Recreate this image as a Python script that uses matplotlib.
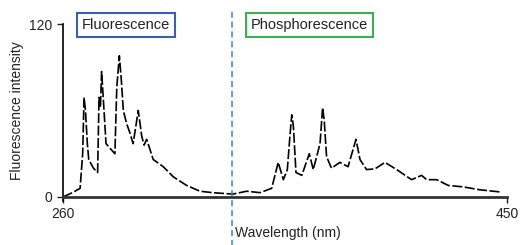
import matplotlib
matplotlib.use('Agg')
import matplotlib.pyplot as plt

plt.rcParams['font.family'] = ['Liberation Sans', 'DejaVu Sans']

# Fluorescence part of the spectrum (wavelength nm, intensity)
wl_fluo = [260, 264, 267.3, 268.4, 269, 269.6, 270.4, 271, 273, 274.8,
           275.4, 276.0, 276.5, 277.2, 278.4, 280, 282.2, 283, 284.1, 285,
           285.8, 287.2, 288.5, 290, 292.2, 293.7, 294.7, 295.8, 298.6, 302.9,
           307.2, 312.9, 318.6, 324, 332.7, 338.6]
int_fluo = [0, 3, 6, 30, 69, 60, 37, 26, 20, 17,
            69, 62, 87, 69, 37, 34, 30, 76, 98, 80,
            60, 51, 45, 37, 60, 42, 36, 40, 26, 21,
            14, 8, 4, 3, 2, 4]

# Phosphorescence part
wl_phos = [344.3, 349.3, 352.1, 354.3, 356, 357.1, 357.9, 358.6, 359.7, 362.2,
           365.4, 367.1, 370, 371.1, 371.8, 372.8, 374.9, 378.5, 382, 385.4,
           387.1, 389.9, 393.5, 397.8, 402.8, 409.2, 413.5, 415.6, 419.9, 424.9,
           431.3, 438.4, 447]
int_phos = [3, 6, 24, 12, 19, 42, 57, 49, 17, 15,
            30, 19, 37, 62, 53, 28, 20, 24, 21, 40,
            26, 19, 19.5, 24, 19, 12, 15, 12, 12, 8,
            7, 5, 3.5]

wl = wl_fluo + wl_phos
intensity = int_fluo + int_phos

x_ticks = [260, 450]
y_ticks = [0, 120]
split_wl = 332.3

fig = plt.figure(figsize=(5.21, 2.45), dpi=100)
ax = fig.add_axes([0.121, 0.196, 0.852, 0.706])

ax.plot(wl, intensity, color='black', linewidth=1.2, linestyle=(0, (6, 1.5)))

ax.set_xlim(260, 450)
ax.set_ylim(0, 120)
ax.set_xticks(x_ticks)
ax.set_yticks(y_ticks)
ax.tick_params(labelsize=10, colors='#222222', length=4, width=1)
ax.spines['top'].set_visible(False)
ax.spines['right'].set_visible(False)
ax.spines['left'].set_linewidth(1.2)
ax.spines['bottom'].set_linewidth(2)
ax.spines['bottom'].set_color('#333333')
ax.spines['left'].set_bounds(-3, 120)
ax.set_ylabel('Fluorescence intensity', fontsize=10, color='#222222', labelpad=4)

# dashed separator line running past the axes
ax.axvline(split_wl, ymin=-0.3, ymax=1.07, color='#3a86c8', linestyle=(0, (4, 2.5)),
           linewidth=1.1, clip_on=False)

fig.text(0.451, 0.05, 'Wavelength (nm)', fontsize=10, color='#222222', ha='left', va='center')

ax.text(0.043, 0.994, 'Fluorescence', transform=ax.transAxes, fontsize=10.5, color='#222222',
        ha='left', va='center',
        bbox=dict(boxstyle='square,pad=0.35', facecolor='white', edgecolor='#3a5fad', linewidth=1.5))
ax.text(0.423, 0.994, 'Phosphorescence', transform=ax.transAxes, fontsize=10.5, color='#222222',
        ha='left', va='center',
        bbox=dict(boxstyle='square,pad=0.35', facecolor='white', edgecolor='#3cb04e', linewidth=1.5))

fig.savefig('out.png', dpi=100)
